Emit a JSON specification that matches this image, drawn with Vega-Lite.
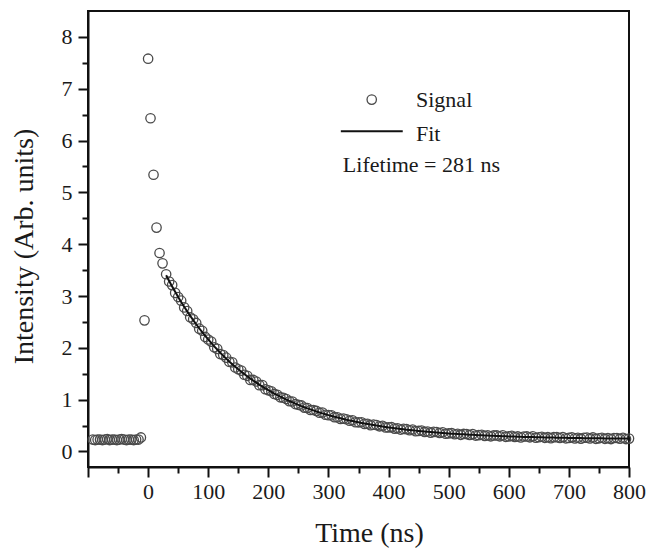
{
  "$schema": "https://vega.github.io/schema/vega-lite/v6.json",
  "autosize": {"type": "none"},
  "width": 541,
  "height": 456,
  "padding": {"left": 88, "top": 11, "right": 23, "bottom": 81},
  "background": "white",
  "config": {
    "font": "Liberation Serif",
    "view": {"stroke": "#111", "strokeWidth": 2},
    "text": {"font": "Liberation Serif"},
    "axis": {
      "grid": false,
      "domainColor": "#111",
      "domainWidth": 2,
      "tickColor": "#111",
      "tickWidth": 2,
      "labelFont": "Liberation Serif",
      "labelFontSize": 22,
      "labelColor": "#1a1a1a",
      "titleFont": "Liberation Serif",
      "titleFontSize": 28,
      "titleFontWeight": "normal",
      "titleColor": "#1a1a1a"
    }
  },
  "datasets": {
    "sig": [
      {"t":-92,"v":0.23},{"t":-88,"v":0.22},{"t":-84,"v":0.23},{"t":-80,"v":0.23},{"t":-76,"v":0.22},{"t":-72,"v":0.23},{"t":-68,"v":0.24},{"t":-64,"v":0.22},
      {"t":-60,"v":0.23},{"t":-56,"v":0.23},{"t":-52,"v":0.22},{"t":-48,"v":0.23},{"t":-44,"v":0.24},{"t":-40,"v":0.23},{"t":-36,"v":0.22},{"t":-32,"v":0.23},
      {"t":-28,"v":0.23},{"t":-24,"v":0.22},{"t":-20,"v":0.23},{"t":-16,"v":0.23},
      {"t":-12,"v":0.27},{"t":-6,"v":2.53},{"t":0,"v":7.58},{"t":4,"v":6.43},{"t":9,"v":5.34},{"t":14,"v":4.32},{"t":19,"v":3.83},{"t":24,"v":3.63},
      {"t":30,"v":3.42},{"t":35,"v":3.28},{"t":40,"v":3.21},{"t":45,"v":3.06},{"t":50,"v":2.98},{"t":55,"v":2.91},{"t":60,"v":2.78},{"t":65,"v":2.71},
      {"t":70,"v":2.59},{"t":75,"v":2.55},{"t":80,"v":2.48},{"t":85,"v":2.37},{"t":90,"v":2.33},{"t":95,"v":2.21},{"t":100,"v":2.16},{"t":105,"v":2.12},
      {"t":110,"v":2.01},{"t":115,"v":1.98},{"t":120,"v":1.88},{"t":125,"v":1.86},{"t":130,"v":1.81},{"t":135,"v":1.73},{"t":140,"v":1.72},{"t":145,"v":1.62},
      {"t":150,"v":1.586},{"t":155,"v":1.56},{"t":160,"v":1.48},{"t":165,"v":1.46},{"t":170,"v":1.38},{"t":175,"v":1.38},{"t":180,"v":1.35},{"t":185,"v":1.28},
      {"t":190,"v":1.28},{"t":195,"v":1.2},{"t":200,"v":1.18},{"t":205,"v":1.162},{"t":210,"v":1.11},{"t":215,"v":1.092},{"t":220,"v":1.045},{"t":225,"v":1.037},
      {"t":230,"v":1.011},{"t":235,"v":0.969},{"t":240,"v":0.964},{"t":245,"v":0.914},{"t":250,"v":0.9},{"t":255,"v":0.888},{"t":260,"v":0.846},{"t":265,"v":0.837},
      {"t":270,"v":0.8},{"t":275,"v":0.8},{"t":280,"v":0.782},{"t":285,"v":0.748},{"t":290,"v":0.75},{"t":295,"v":0.708},{"t":300,"v":0.701},{"t":305,"v":0.697},
      {"t":310,"v":0.661},{"t":315,"v":0.659},{"t":320,"v":0.628},{"t":325,"v":0.634},{"t":330,"v":0.622},{"t":335,"v":0.594},{"t":340,"v":0.601},{"t":345,"v":0.564},
      {"t":350,"v":0.562},{"t":355,"v":0.563},{"t":360,"v":0.532},{"t":365,"v":0.534},{"t":370,"v":0.507},{"t":375,"v":0.517},{"t":380,"v":0.509},{"t":385,"v":0.485},
      {"t":390,"v":0.496},{"t":395,"v":0.463},{"t":400,"v":0.464},{"t":405,"v":0.468},{"t":410,"v":0.441},{"t":415,"v":0.446},{"t":420,"v":0.422},{"t":425,"v":0.435},
      {"t":430,"v":0.43},{"t":435,"v":0.409},{"t":440,"v":0.423},{"t":445,"v":0.392},{"t":450,"v":0.396},{"t":455,"v":0.402},{"t":460,"v":0.377},{"t":465,"v":0.385},
      {"t":470,"v":0.363},{"t":475,"v":0.378},{"t":480,"v":0.375},{"t":485,"v":0.356},{"t":490,"v":0.371},{"t":495,"v":0.342},{"t":500,"v":0.348},{"t":505,"v":0.356},
      {"t":510,"v":0.332},{"t":515,"v":0.342},{"t":520,"v":0.321},{"t":525,"v":0.338},{"t":530,"v":0.336},{"t":535,"v":0.318},{"t":540,"v":0.335},{"t":545,"v":0.307},
      {"t":550,"v":0.314},{"t":555,"v":0.323},{"t":560,"v":0.301},{"t":565,"v":0.311},{"t":570,"v":0.292},{"t":575,"v":0.309},{"t":580,"v":0.309},{"t":585,"v":0.292},
      {"t":590,"v":0.31},{"t":595,"v":0.282},{"t":600,"v":0.29},{"t":605,"v":0.301},{"t":610,"v":0.279},{"t":615,"v":0.29},{"t":620,"v":0.271},{"t":625,"v":0.289},
      {"t":630,"v":0.29},{"t":635,"v":0.273},{"t":640,"v":0.292},{"t":645,"v":0.265},{"t":650,"v":0.274},{"t":655,"v":0.284},{"t":660,"v":0.263},{"t":665,"v":0.275},
      {"t":670,"v":0.257},{"t":675,"v":0.275},{"t":680,"v":0.276},{"t":685,"v":0.26},{"t":690,"v":0.279},{"t":695,"v":0.253},{"t":700,"v":0.262},{"t":705,"v":0.273},
      {"t":710,"v":0.252},{"t":715,"v":0.264},{"t":720,"v":0.246},{"t":725,"v":0.265},{"t":730,"v":0.267},{"t":735,"v":0.251},{"t":740,"v":0.27},{"t":745,"v":0.244},
      {"t":750,"v":0.254},{"t":755,"v":0.265},{"t":760,"v":0.244},{"t":765,"v":0.257},{"t":770,"v":0.239},{"t":775,"v":0.259},{"t":780,"v":0.26},{"t":785,"v":0.245},
      {"t":790,"v":0.264},{"t":795,"v":0.239},{"t":800,"v":0.248}
    ],
    "fit": [
      {"t":30,"v":3.4},{"t":35,"v":3.29},{"t":40,"v":3.183},{"t":45,"v":3.081},{"t":50,"v":2.981},{"t":55,"v":2.886},{"t":60,"v":2.793},{"t":65,"v":2.704},
      {"t":70,"v":2.618},{"t":75,"v":2.535},{"t":80,"v":2.455},{"t":85,"v":2.378},{"t":90,"v":2.303},{"t":95,"v":2.231},{"t":100,"v":2.161},{"t":105,"v":2.094},
      {"t":110,"v":2.029},{"t":115,"v":1.967},{"t":120,"v":1.906},{"t":125,"v":1.848},{"t":130,"v":1.792},{"t":135,"v":1.737},{"t":140,"v":1.685},{"t":145,"v":1.635},
      {"t":150,"v":1.586},{"t":155,"v":1.539},{"t":160,"v":1.493},{"t":165,"v":1.449},{"t":170,"v":1.407},{"t":175,"v":1.366},{"t":180,"v":1.327},{"t":185,"v":1.289},
      {"t":190,"v":1.252},{"t":195,"v":1.217},{"t":200,"v":1.182},{"t":205,"v":1.15},{"t":210,"v":1.118},{"t":215,"v":1.087},{"t":220,"v":1.057},{"t":225,"v":1.029},
      {"t":230,"v":1.001},{"t":235,"v":0.974},{"t":240,"v":0.949},{"t":245,"v":0.924},{"t":250,"v":0.9},{"t":255,"v":0.876},{"t":260,"v":0.854},{"t":265,"v":0.832},
      {"t":270,"v":0.812},{"t":275,"v":0.792},{"t":280,"v":0.772},{"t":285,"v":0.753},{"t":290,"v":0.735},{"t":295,"v":0.718},{"t":300,"v":0.701},{"t":305,"v":0.685},
      {"t":310,"v":0.669},{"t":315,"v":0.654},{"t":320,"v":0.64},{"t":325,"v":0.626},{"t":330,"v":0.612},{"t":335,"v":0.599},{"t":340,"v":0.586},{"t":345,"v":0.574},
      {"t":350,"v":0.562},{"t":355,"v":0.551},{"t":360,"v":0.54},{"t":365,"v":0.529},{"t":370,"v":0.519},{"t":375,"v":0.509},{"t":380,"v":0.499},{"t":385,"v":0.49},
      {"t":390,"v":0.481},{"t":395,"v":0.473},{"t":400,"v":0.464},{"t":405,"v":0.456},{"t":410,"v":0.449},{"t":415,"v":0.441},{"t":420,"v":0.434},{"t":425,"v":0.427},
      {"t":430,"v":0.42},{"t":435,"v":0.414},{"t":440,"v":0.408},{"t":445,"v":0.402},{"t":450,"v":0.396},{"t":455,"v":0.39},{"t":460,"v":0.385},{"t":465,"v":0.38},
      {"t":470,"v":0.375},{"t":475,"v":0.37},{"t":480,"v":0.365},{"t":485,"v":0.361},{"t":490,"v":0.356},{"t":495,"v":0.352},{"t":500,"v":0.348},{"t":505,"v":0.344},
      {"t":510,"v":0.34},{"t":515,"v":0.337},{"t":520,"v":0.333},{"t":525,"v":0.33},{"t":530,"v":0.326},{"t":535,"v":0.323},{"t":540,"v":0.32},{"t":545,"v":0.317},
      {"t":550,"v":0.314},{"t":555,"v":0.311},{"t":560,"v":0.309},{"t":565,"v":0.306},{"t":570,"v":0.304},{"t":575,"v":0.301},{"t":580,"v":0.299},{"t":585,"v":0.297},
      {"t":590,"v":0.295},{"t":595,"v":0.292},{"t":600,"v":0.29},{"t":605,"v":0.289},{"t":610,"v":0.287},{"t":615,"v":0.285},{"t":620,"v":0.283},{"t":625,"v":0.281},
      {"t":630,"v":0.28},{"t":635,"v":0.278},{"t":640,"v":0.277},{"t":645,"v":0.275},{"t":650,"v":0.274},{"t":655,"v":0.272},{"t":660,"v":0.271},{"t":665,"v":0.27},
      {"t":670,"v":0.269},{"t":675,"v":0.267},{"t":680,"v":0.266},{"t":685,"v":0.265},{"t":690,"v":0.264},{"t":695,"v":0.263},{"t":700,"v":0.262},{"t":705,"v":0.261},
      {"t":710,"v":0.26},{"t":715,"v":0.259},{"t":720,"v":0.258},{"t":725,"v":0.257},{"t":730,"v":0.257},{"t":735,"v":0.256},{"t":740,"v":0.255},{"t":745,"v":0.254},
      {"t":750,"v":0.254},{"t":755,"v":0.253},{"t":760,"v":0.252},{"t":765,"v":0.252},{"t":770,"v":0.251},{"t":775,"v":0.251},{"t":780,"v":0.25},{"t":785,"v":0.25},
      {"t":790,"v":0.249},{"t":795,"v":0.249},{"t":800,"v":0.248}
    ],
    "legSym": [{"t":372,"v":6.79}],
    "legLine": [{"t":320.6,"v":6.18},{"t":423.6,"v":6.18}],
    "legText": [
      {"t":445.7,"v":6.65,"label":"Signal"},
      {"t":445.7,"v":5.99,"label":"Fit"},
      {"t":324,"v":5.39,"label":"Lifetime = 281 ns"}
    ]
  },
  "encoding": {
    "x": {
      "field": "t",
      "type": "quantitative",
      "scale": {"domain": [-100, 800], "nice": false, "zero": false},
      "axis": {
        "title": "Time (ns)",
        "values": [-100,-50,0,50,100,150,200,250,300,350,400,450,500,550,600,650,700,750,800],
        "labelExpr": "(datum.value % 100 === 0 && datum.value >= 0) ? format(datum.value, 'd') : ''",
        "tickSize": {"condition": {"test": "datum.value % 100 === 0", "value": 10}, "value": 6},
        "labelPadding": 4,
        "labelFlush": false,
        "labelOverlap": false,
        "titleX": 281,
        "titleY": 74,
        "titleBaseline": "alphabetic"
      }
    },
    "y": {
      "field": "v",
      "type": "quantitative",
      "scale": {"domain": [-0.3, 8.5], "nice": false, "zero": false},
      "axis": {
        "title": "Intensity (Arb. units)",
        "values": [0,0.5,1,1.5,2,2.5,3,3.5,4,4.5,5,5.5,6,6.5,7,7.5,8],
        "labelExpr": "(datum.value % 1 === 0) ? format(datum.value, 'd') : ''",
        "tickSize": {"condition": {"test": "datum.value % 1 === 0", "value": 10}, "value": 6},
        "labelPadding": 6,
        "labelFlush": false,
        "labelOverlap": false,
        "titleX": -56,
        "titleY": 235,
        "titleBaseline": "alphabetic"
      }
    }
  },
  "layer": [
    {
      "data": {"name": "sig"},
      "mark": {"type": "point", "shape": "circle", "filled": false, "stroke": "#4a4a4a", "strokeWidth": 1.3, "size": 88, "opacity": 1}
    },
    {
      "data": {"name": "fit"},
      "mark": {"type": "line", "color": "#111", "strokeWidth": 2}
    },
    {
      "data": {"name": "legSym"},
      "mark": {"type": "point", "shape": "circle", "filled": false, "stroke": "#4a4a4a", "strokeWidth": 1.3, "size": 88, "opacity": 1}
    },
    {
      "data": {"name": "legLine"},
      "mark": {"type": "line", "color": "#111", "strokeWidth": 2}
    },
    {
      "data": {"name": "legText"},
      "mark": {"type": "text", "align": "left", "baseline": "alphabetic", "font": "Liberation Serif", "fontSize": 22, "color": "#1a1a1a"},
      "encoding": {"text": {"field": "label"}}
    }
  ]
}
